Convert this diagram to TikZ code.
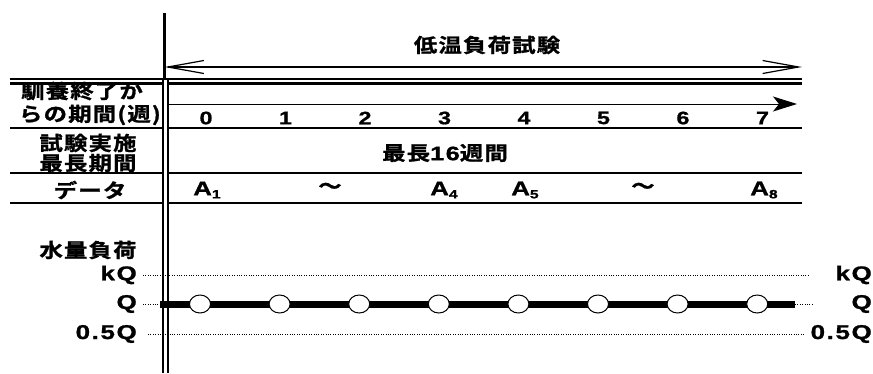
\documentclass[tikz,border=0pt]{standalone}
\usepackage{fontspec}
\usetikzlibrary{arrows.meta,shapes.geometric}
\newfontfamily\jp[FakeStretch=1.2,LetterSpace=6,FakeBold=1.2]{Noto Sans CJK JP Bold}
\newfontfamily\lat[FakeStretch=1.3,LetterSpace=8,FakeBold=1]{Liberation Sans Bold}
\newcommand{\subsc}[1]{\raisebox{-3pt}{\fontsize{12}{13}\selectfont #1}}
\tikzset{
  jt/.style={inner sep=0pt, font=\jp\fontsize{19.5}{21}\selectfont},
  lt/.style={inner sep=0pt, font=\lat\fontsize{20}{22}\selectfont},
  num/.style={inner sep=0pt, font=\lat\fontsize{18}{20}\selectfont},
  rulebar/.style={line width=2.2pt},
  dotline/.style={line width=0.8pt, dash pattern=on 0.8pt off 1.6pt},
  circ/.style={ellipse, draw, line width=1pt, fill=white, minimum width=21pt, minimum height=18pt, inner sep=0pt},
  barb/.tip={Straight Barb[length=36pt,width=13pt,line width=1.2pt]},
}
\begin{document}
\begin{tikzpicture}[x=1pt,y=-1pt]
\useasboundingbox (0,0) rectangle (873,373);
% title and span arrow
\node[jt] (title) at (487,45) {低温負荷試験};
\coordinate (tl) at (164.5,67);
\coordinate (tr) at (802,67);
\draw[line width=1.2pt, barb-barb] (tl) -- (tr);
% vertical lines
\coordinate (vt) at (164.5,13);
\coordinate (vb) at (164.5,79);
\draw[rulebar] (vt) -- (vb);
\coordinate (vla) at (162.5,79);
\coordinate (vlb) at (162.5,373);
\coordinate (vra) at (167.5,79);
\coordinate (vrb) at (167.5,373);
\draw[line width=2pt] (vla) -- (vlb) (vra) -- (vrb);
% row labels (drawn before rules so the top rule overlaps)
\node[jt] (l1a) at (82,91) {馴養終了か};
\node[jt,anchor=east] (l1b) at (161,115) {らの期間(週)};
\node[jt] (l2a) at (88,143) {試験実施};
\node[jt] (l2b) at (88,163) {最長期間};
\node[jt] (l3) at (90,190) {データ};
% horizontal rules
\coordinate (h0a) at (10,79);
\coordinate (h0b) at (802,79);
\draw[rulebar] (h0a) -- (h0b);
\foreach \yy in {83.5,128,173,203}{
  \draw[rulebar] (10,\yy) -- (162.5,\yy) (167.5,\yy) -- (802,\yy);
}
% week arrow
\coordinate (wa) at (168,104);
\coordinate (wb) at (797,104);
\draw[line width=1pt, -{Stealth[length=24pt,width=15pt,inset=6pt]}] (wa) -- (wb);
\foreach \i in {0,...,7}{
  \node[num] (n\i) at (206+79.5*\i,118) {\i};
}
\node[jt] (dur) at (445,153) {最長{\lat 16}週間};
% data row
\node[lt,anchor=west] (a1) at (193,190) {A\subsc{1}};
\node[jt] (t1) at (330,188) {～};
\node[lt,anchor=west] (a4) at (430,190) {A\subsc{4}};
\node[lt,anchor=west] (a5) at (511,190) {A\subsc{5}};
\node[jt] (t2) at (643,188) {～};
\node[lt,anchor=west] (a8) at (750,190) {A\subsc{8}};
% water load
\node[jt] (wl) at (88,250) {水量負荷};
\node[lt,anchor=east] (kql) at (137,275) {kQ};
\node[lt,anchor=east] (ql) at (137,304) {Q};
\node[lt,anchor=east] (hql) at (137,334) {0.5Q};
\node[lt,anchor=east] (kqr) at (872,275) {kQ};
\node[lt,anchor=east] (qr) at (872,304) {Q};
\node[lt,anchor=east] (hqr) at (872,334) {0.5Q};
\coordinate (kqa) at (143,275); \coordinate (kqb) at (809,275);
\coordinate (hqa) at (148,334); \coordinate (hqb) at (805,334);
\coordinate (qda) at (143,304); \coordinate (qa) at (160,304);
\coordinate (qb) at (795,304); \coordinate (qdb) at (813,304);
\draw[dotline] (kqa) -- (kqb);
\draw[dotline] (hqa) -- (hqb);
\draw[dotline] (qda) -- (qa) (qb) -- (qdb);
\draw[line width=7pt] (qa) -- (qb);
\foreach \i in {0,...,7}{
  \node[circ] (c\i) at (200+79.6*\i,304) {};
}
\end{tikzpicture}
\end{document}
